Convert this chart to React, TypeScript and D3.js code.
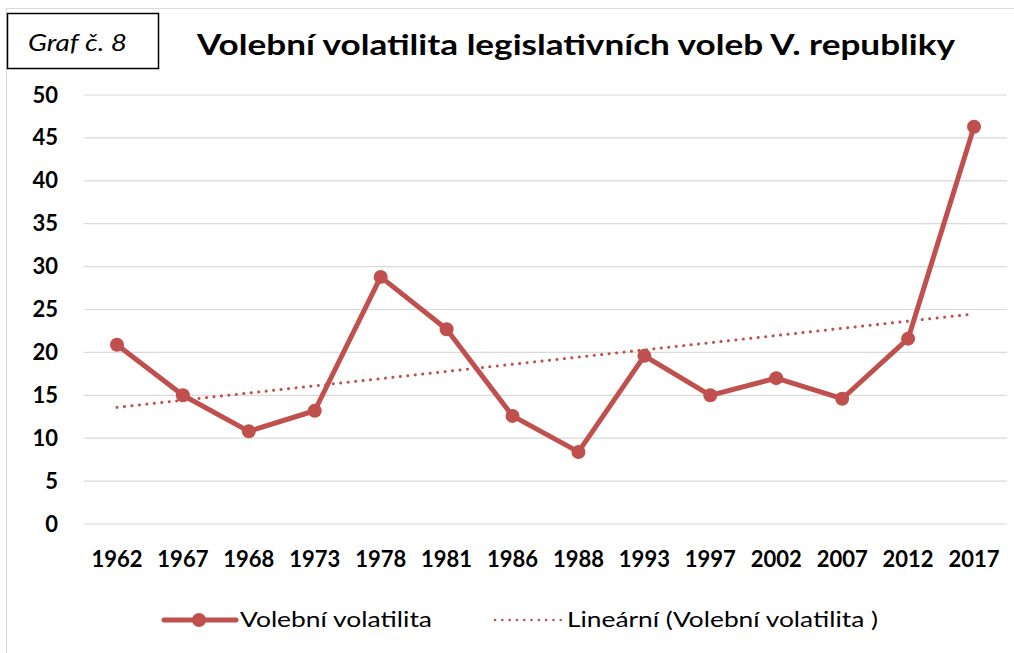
import React from "react";
import * as d3 from "d3";

const categories = ["1962","1967","1968","1973","1978","1981","1986","1988","1993","1997","2002","2007","2012","2017"];
const volatility = [20.9,15.0,10.8,13.2,28.8,22.7,12.6,8.4,19.6,15.0,17.0,14.6,21.6,46.3];
const yTicks = [0,5,10,15,20,25,30,35,40,45,50];
const title = "Volební volatilita legislativních voleb V. republiky";
const boxLabel = "Graf č. 8";
const seriesName = "Volební volatilita";
const trendName = "Lineární (Volební volatilita )";

const W = 1014, H = 653;
const RED = "#c0504d";
const FONT = "Lato, 'Open Sans', sans-serif";

export default function App() {
  const x = d3.scaleBand().domain(categories).range([84, 1007]);
  const y = d3.scaleLinear().domain([0, 50]).range([524, 95]);
  const cx = (c: string) => (x(c) as number) + x.bandwidth() / 2;

  // linear regression trendline over index 1..n
  const n = volatility.length;
  const xs = volatility.map((_, i) => i + 1);
  const mx = d3.mean(xs) as number;
  const my = d3.mean(volatility) as number;
  const sxy = d3.sum(xs.map((xi, i) => (xi - mx) * (volatility[i] - my)));
  const sxx = d3.sum(xs.map((xi) => (xi - mx) ** 2));
  const slope = sxy / sxx;
  const icpt = my - slope * mx;
  const trend = [
    [cx(categories[0]), y(icpt + slope * 1)],
    [cx(categories[n - 1]), y(icpt + slope * n)],
  ] as [number, number][];

  const line = d3.line<number>().x((_, i) => cx(categories[i])).y((v) => y(v));

  return (
    <svg width={W} height={H} style={{ position: "absolute", left: 0, top: 0 }}>
      <rect x={0} y={0} width={W} height={H} fill="#fff" />
      <rect x={6.5} y={8.5} width={W + 10} height={H + 10} fill="none" stroke="#d9d9d9" strokeWidth={1} />
      {/* label box */}
      <rect x={7.5} y={13.5} width={151} height={55} fill="#fff" stroke="#000" strokeWidth={1.5} />
      <text x={28} y={51} fontFamily={FONT} fontStyle="italic" fontSize={24} fill="#000" textLength={99} lengthAdjust="spacingAndGlyphs">{boxLabel}</text>
      {/* title */}
      <text x={197} y={55} fontFamily={FONT} fontWeight="bold" fontSize={29} fill="#000" textLength={758} lengthAdjust="spacingAndGlyphs">{title}</text>
      {/* gridlines */}
      {yTicks.map((t) => (
        <line key={t} x1={84} x2={1007} y1={y(t)} y2={y(t)} stroke="#d9d9d9" strokeWidth={1.2} />
      ))}
      {yTicks.map((t) => (
        <text key={"l" + t} x={58} y={y(t) + 7.5} textAnchor="end" fontFamily={FONT} fontWeight="bold" fontSize={22} fill="#000">{t}</text>
      ))}
      {categories.map((c) => (
        <text key={c} x={cx(c)} y={567} textAnchor="middle" fontFamily={FONT} fontWeight="bold" fontSize={22} fill="#000">{c}</text>
      ))}
      {/* trend */}
      <line x1={trend[0][0]} y1={trend[0][1]} x2={trend[1][0]} y2={trend[1][1]} stroke={RED} strokeWidth={3} strokeDasharray="0.1 7.4" strokeLinecap="round" />
      {/* series */}
      <path d={line(volatility) as string} fill="none" stroke={RED} strokeWidth={5} strokeLinejoin="round" />
      {volatility.map((v, i) => (
        <circle key={i} cx={cx(categories[i])} cy={y(v)} r={7} fill={RED} />
      ))}
      {/* legend */}
      <line x1={164} x2={236} y1={620} y2={620} stroke={RED} strokeWidth={5} strokeLinecap="round" />
      <circle cx={199} cy={620} r={7} fill={RED} />
      <text x={240} y={627} fontFamily={FONT} fontSize={21} fill="#000" textLength={192} lengthAdjust="spacingAndGlyphs">{seriesName}</text>
      <line x1={495} x2={561} y1={620} y2={620} stroke={RED} strokeWidth={2.5} strokeDasharray="0.1 7.2" strokeLinecap="round" />
      <text x={567} y={627} fontFamily={FONT} fontSize={21} fill="#000" textLength={311} lengthAdjust="spacingAndGlyphs">{trendName}</text>
    </svg>
  );
}
